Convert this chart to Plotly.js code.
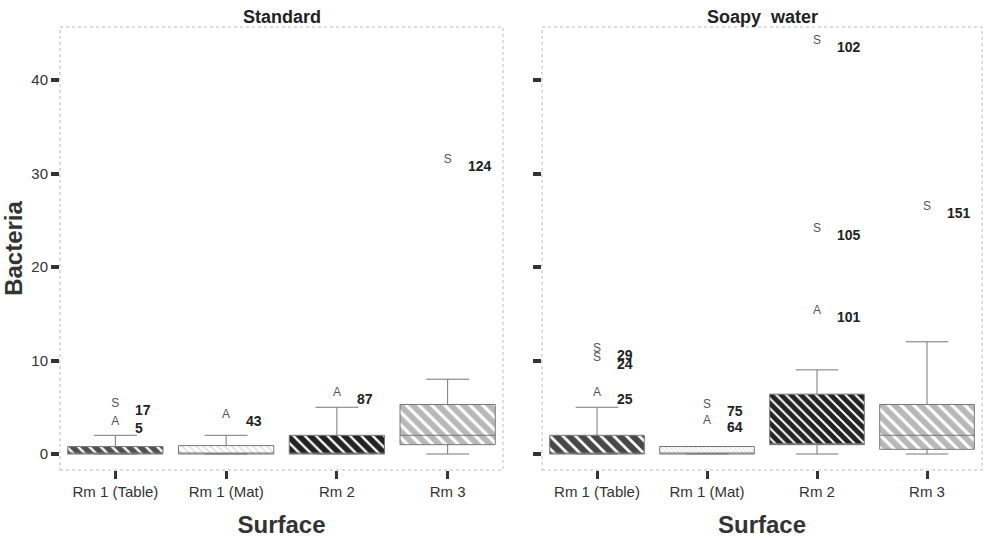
<!DOCTYPE html>
<html><head><meta charset="utf-8">
<script src="https://cdn.plot.ly/plotly-3.0.1.min.js"></script>
<style>html,body{margin:0;padding:0;background:#fff}</style>
</head><body>
<div id="chart" style="width:986px;height:538px"></div>
<script>
const categories = ["Rm 1 (Table)", "Rm 1 (Mat)", "Rm 2", "Rm 3"];

// Standard
const stdLow = [0, 0, 0, 0];
const stdQ1 = [0, 0, 0, 1];
const stdMed = [0, 0, 0, 2];
const stdQ3 = [0.8, 0.9, 2, 5.3];
const stdHigh = [2, 2, 5, 8];
const stdOutCat = ["Rm 1 (Table)", "Rm 1 (Table)", "Rm 1 (Mat)", "Rm 2", "Rm 3"];
const stdOutVal = [5.3, 3.4, 4.2, 6.5, 31.4];
const stdOutSym = ["S", "A", "A", "A", "S"];
const stdOutId = ["17", "5", "43", "87", "124"];

// Soapy water
const soapLow = [0, 0, 0, 0];
const soapQ1 = [0, 0, 1, 0.5];
const soapMed = [0, 0, 1, 2];
const soapQ3 = [2, 0.8, 6.4, 5.3];
const soapHigh = [5, 0.8, 9, 12];
const soapOutCat = ["Rm 1 (Table)", "Rm 1 (Table)", "Rm 1 (Table)", "Rm 1 (Mat)", "Rm 1 (Mat)", "Rm 2", "Rm 2", "Rm 2", "Rm 3"];
const soapOutVal = [11.2, 10.3, 6.5, 5.2, 3.5, 15.3, 24.1, 44.2, 26.4];
const soapOutSym = ["S", "S", "A", "S", "A", "A", "S", "S", "S"];
const soapOutId = ["29", "24", "25", "75", "64", "101", "105", "102", "151"];

const FONT = "Liberation Sans, Arial, Helvetica, sans-serif";
const BW = 0.86;

const stdBg = ["#505050", "#dedede", "#232323", "#b8b8b8"];
const stdFg = ["#dddddd", "#a8a8a8", "#e8e8e8", "#f4f4f4"];
const stdSize = [8, 5, 8, 9];
const stdSol = [0.7, 0.3, 0.72, 0.65];
const soapBg = ["#484848", "#e2e2e2", "#232323", "#b8b8b8"];
const soapFg = ["#dddddd", "#cccccc", "#e8e8e8", "#f4f4f4"];
const soapSize = [9, 3, 7, 9];
const soapSol = [0.7, 0.4, 0.72, 0.65];

function barTrace(q1, q3, bg, fg, sz, sol, xa, ya) {
  return {
    type: "bar", x: categories, base: q1, y: q3.map((v, i) => v - q1[i]),
    width: categories.map(() => BW),
    marker: { color: bg, line: { width: 0 },
      pattern: { shape: "\\", bgcolor: bg, fgcolor: fg, size: sz, solidity: sol, fillmode: "replace" } },
    xaxis: xa, yaxis: ya, hoverinfo: "skip", showlegend: false
  };
}
function boxTrace(lo, q1, med, q3, hi, xa, ya) {
  return {
    type: "box", x: categories, lowerfence: lo, q1: q1, median: med, q3: q3, upperfence: hi,
    width: BW, whiskerwidth: 0.45, fillcolor: "rgba(0,0,0,0)",
    line: { color: "#777777", width: 1 }, boxpoints: false,
    xaxis: xa, yaxis: ya, hoverinfo: "skip", showlegend: false
  };
}
function symTrace(cat, val, sym, xa, ya) {
  return {
    type: "scatter", mode: "text", x: cat, y: val, text: sym,
    textposition: "middle center",
    textfont: { family: FONT, size: 12, color: "#555555" },
    xaxis: xa, yaxis: ya, hoverinfo: "skip", showlegend: false
  };
}
function idAnnots(cat, val, ids, xr, yr) {
  return cat.map((c, i) => ({
    x: c, y: val[i], xref: xr, yref: yr, text: "<b>" + ids[i] + "</b>",
    showarrow: false, xanchor: "left", yanchor: "middle", xshift: 18, yshift: -6,
    font: { family: FONT, size: 14, color: "#222222" }
  }));
}

const data = [
  barTrace(stdQ1, stdQ3, stdBg, stdFg, stdSize, stdSol, "x", "y"),
  barTrace(soapQ1, soapQ3, soapBg, soapFg, soapSize, soapSol, "x2", "y2"),
  boxTrace(stdLow, stdQ1, stdMed, stdQ3, stdHigh, "x", "y"),
  boxTrace(soapLow, soapQ1, soapMed, soapQ3, soapHigh, "x2", "y2"),
  symTrace(stdOutCat, stdOutVal, stdOutSym, "x", "y"),
  symTrace(soapOutCat, soapOutVal, soapOutSym, "x2", "y2")
];

const yr = [-1.71, 45.67];
const xAx = (dom, anchor) => ({
  domain: dom, anchor: anchor, type: "category", categoryorder: "array", categoryarray: categories,
  range: [-0.5, 3.5], showgrid: false, zeroline: false, showline: false,
  ticks: "outside", ticklen: 8, tickwidth: 3, tickcolor: "#333333",
  tickfont: { family: FONT, size: 15, color: "#333333" },
  title: { text: "<b>Surface</b>", font: { family: FONT, size: 24, color: "#333333" }, standoff: 18 }
});
const yAx = (dom, anchor, labels) => ({
  domain: dom, anchor: anchor, range: yr, tickvals: [0, 10, 20, 30, 40],
  showgrid: false, zeroline: false, showline: false, showticklabels: labels,
  ticks: "outside", ticklen: 8, tickwidth: 4, tickcolor: "#333333",
  tickfont: { family: FONT, size: 15, color: "#333333" }
});

const layout = {
  width: 986, height: 538,
  margin: { l: 60, r: 4, t: 27, b: 68 },
  paper_bgcolor: "#ffffff", plot_bgcolor: "#ffffff",
  showlegend: false,
  xaxis: xAx([0, 0.4805], "y"),
  xaxis2: xAx([0.5228, 1], "y2"),
  yaxis: Object.assign(yAx([0, 1], "x", true), {
    title: { text: "<b>Bacteria</b>", font: { family: FONT, size: 24, color: "#333333" }, standoff: 6 }
  }),
  yaxis2: yAx([0, 1], "x2", false),
  shapes: [
    { type: "rect", xref: "x domain", yref: "y domain", x0: 0, x1: 1, y0: 0, y1: 1,
      line: { color: "#bbbbbb", width: 1, dash: "dot" } },
    { type: "rect", xref: "x2 domain", yref: "y2 domain", x0: 0, x1: 1, y0: 0, y1: 1,
      line: { color: "#bbbbbb", width: 1, dash: "dot" } }
  ],
  annotations: [
    { text: "<b>Standard</b>", xref: "x domain", yref: "paper", x: 0.5, y: 1, yanchor: "bottom",
      yshift: -2, showarrow: false, font: { family: FONT, size: 18, color: "#222222" } },
    { text: "<b>Soapy  water</b>", xref: "x2 domain", yref: "paper", x: 0.5, y: 1, yanchor: "bottom",
      yshift: -2, showarrow: false, font: { family: FONT, size: 18, color: "#222222" } }
  ].concat(idAnnots(stdOutCat, stdOutVal, stdOutId, "x", "y"))
   .concat(idAnnots(soapOutCat, soapOutVal, soapOutId, "x2", "y2"))
};

Plotly.newPlot("chart", data, layout, { displayModeBar: false, staticPlot: true });
</script>
</body></html>
